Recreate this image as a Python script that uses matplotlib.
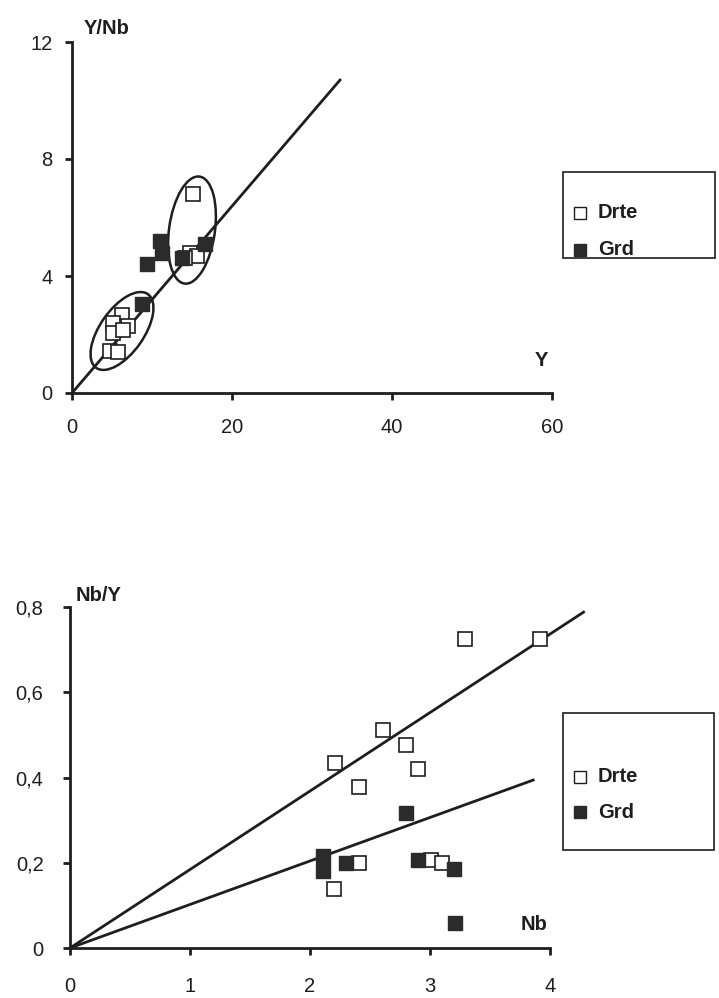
import matplotlib
matplotlib.use("Agg")
import matplotlib.pyplot as plt
from matplotlib.patches import Ellipse, Rectangle
from matplotlib.lines import Line2D
from matplotlib.transforms import Affine2D, ScaledTranslation

plt.rcParams['font.family'] = ['Liberation Sans', 'DejaVu Sans']

# ---- Y/Nb vs Y ----
top_drte_y = [15.1, 14.75, 15.6, 14.1, 6.25, 5.1, 7.0, 5.1, 6.4, 4.75, 5.75]
top_drte_ratio = [6.8, 4.8, 4.7, 4.6, 2.67, 2.4, 2.3, 2.05, 2.15, 1.45, 1.4]
top_grd_y = [9.4, 11.0, 11.2, 13.75, 16.6, 8.7]
top_grd_ratio = [4.4, 5.2, 4.8, 4.6, 5.1, 3.05]
top_trend_x = [0, 33.5]
top_trend_y = [0, 10.7]
top_xticks = [0, 20, 40, 60]
top_yticks = [0, 4, 8, 12]
# group outlines: centre (data), semi-axes (points), angle (deg)
top_groups = [((6.25, 2.12), 32.4, 15.8, 55), ((15.0, 5.57), 38.9, 16.5, 82)]

# ---- Nb/Y vs Nb ----
bot_drte_nb = [3.29, 3.92, 2.61, 2.80, 2.21, 2.90, 2.41, 2.41, 3.01, 3.10, 2.20]
bot_drte_ratio = [0.724, 0.724, 0.511, 0.476, 0.434, 0.42, 0.378, 0.199, 0.206, 0.199, 0.138]
bot_grd_nb = [2.80, 2.11, 2.11, 2.30, 2.90, 3.20, 3.21]
bot_grd_ratio = [0.316, 0.216, 0.18, 0.20, 0.206, 0.185, 0.059]
bot_trend_drte_x = [0, 4.28]
bot_trend_drte_y = [0, 0.788]
bot_trend_grd_x = [0, 3.86]
bot_trend_grd_y = [0, 0.394]
bot_xticks = [0, 1, 2, 3, 4]
bot_yticks = [0, 0.2, 0.4, 0.6, 0.8]
bot_yticklabels = ["0", "0,2", "0,4", "0,6", "0,8"]

W, H = 719, 998
INK = "#1e1e1e"
FILL = "#2b2b2b"

fig = plt.figure(figsize=(W / 100, H / 100), dpi=100)
fig.patch.set_facecolor("white")


def fx(px):
    return px / W


def fy(py):
    return 1 - py / H


def style_axes(ax):
    for s in ("top", "right"):
        ax.spines[s].set_visible(False)
    for s in ("left", "bottom"):
        ax.spines[s].set_linewidth(2.0)
        ax.spines[s].set_color(INK)
    ax.tick_params(direction="out", length=5, width=2, color=INK,
                   labelsize=14.5, labelcolor=INK)
    ax.set_facecolor("none")


# top panel
ax1 = fig.add_axes([fx(72), fy(393), fx(552) - fx(72), fy(42) - fy(393)])
style_axes(ax1)
ax1.set_xlim(0, 60)
ax1.set_ylim(0, 12)
ax1.set_xticks(top_xticks)
ax1.set_yticks(top_yticks)
ax1.tick_params(axis="x", pad=13)
ax1.tick_params(axis="y", pad=9)
ax1.plot(top_trend_x, top_trend_y, color=INK, lw=2.0, clip_on=False)
for (cx, cy), a, b, ang in top_groups:
    tr = (Affine2D().scale(1 / 72) + fig.dpi_scale_trans
          + ScaledTranslation(cx, cy, ax1.transData))
    ax1.add_patch(Ellipse((0, 0), 2 * a, 2 * b, angle=ang, transform=tr,
                          fill=False, ec=INK, lw=1.8))
ax1.plot(top_drte_y, top_drte_ratio, ls="none", marker="s", ms=9.5,
         mfc="white", mec=INK, mew=1.2, zorder=3)
ax1.plot(top_grd_y, top_grd_ratio, ls="none", marker="s", ms=9.5,
         mfc=FILL, mec=FILL, mew=1.0, zorder=4)
ax1.text(1.5, 12.15, "Y/Nb", fontsize=14.5, fontweight="bold", color=INK,
         ha="left", va="bottom")
ax1.text(59.5, 1.1, "Y", fontsize=14.5, fontweight="bold", color=INK,
         ha="right", va="center")

# bottom panel
ax2 = fig.add_axes([fx(70), fy(948), fx(550) - fx(70), fy(607) - fy(948)])
style_axes(ax2)
ax2.set_xlim(0, 4)
ax2.set_ylim(0, 0.8)
ax2.set_xticks(bot_xticks)
ax2.set_yticks(bot_yticks)
ax2.set_yticklabels(bot_yticklabels)
ax2.tick_params(axis="x", pad=16)
ax2.tick_params(axis="y", pad=14)
ax2.plot(bot_trend_drte_x, bot_trend_drte_y, color=INK, lw=2.0, clip_on=False)
ax2.plot(bot_trend_grd_x, bot_trend_grd_y, color=INK, lw=2.0, clip_on=False)
ax2.plot(bot_drte_nb, bot_drte_ratio, ls="none", marker="s", ms=10.5,
         mfc="white", mec=INK, mew=1.2, zorder=3, clip_on=False)
ax2.plot(bot_grd_nb, bot_grd_ratio, ls="none", marker="s", ms=10.5,
         mfc=FILL, mec=FILL, mew=1.0, zorder=4)
ax2.text(0.05, 0.805, "Nb/Y", fontsize=14.5, fontweight="bold", color=INK,
         ha="left", va="bottom")
ax2.text(3.98, 0.055, "Nb", fontsize=14.5, fontweight="bold", color=INK,
         ha="right", va="center")
for ax in (ax1, ax2):
    for sp in ax.spines.values():
        sp.set_clip_on(False)


def legend_box(x0, y0, x1, y1, row1, row2):
    fig.add_artist(Rectangle((fx(x0), fy(y1)), fx(x1) - fx(x0), fy(y0) - fy(y1),
                             transform=fig.transFigure, fill=False,
                             ec=INK, lw=1.2))
    fig.add_artist(Line2D([fx(x0 + 17)], [fy(row1)], transform=fig.transFigure,
                          marker="s", ms=8.5, mfc="white", mec=INK, mew=1.0, ls="none"))
    fig.add_artist(Line2D([fx(x0 + 17)], [fy(row2)], transform=fig.transFigure,
                          marker="s", ms=8.5, mfc=FILL, mec=FILL, ls="none"))
    fig.text(fx(x0 + 35), fy(row1), "Drte", fontsize=14.5, fontweight="bold",
             color=INK, va="center", ha="left")
    fig.text(fx(x0 + 35), fy(row2), "Grd", fontsize=14.5, fontweight="bold",
             color=INK, va="center", ha="left")


legend_box(563, 172, 715, 258, 213, 250)
legend_box(563, 713, 714, 850, 777, 812)

fig.savefig("out.png", dpi=100)
